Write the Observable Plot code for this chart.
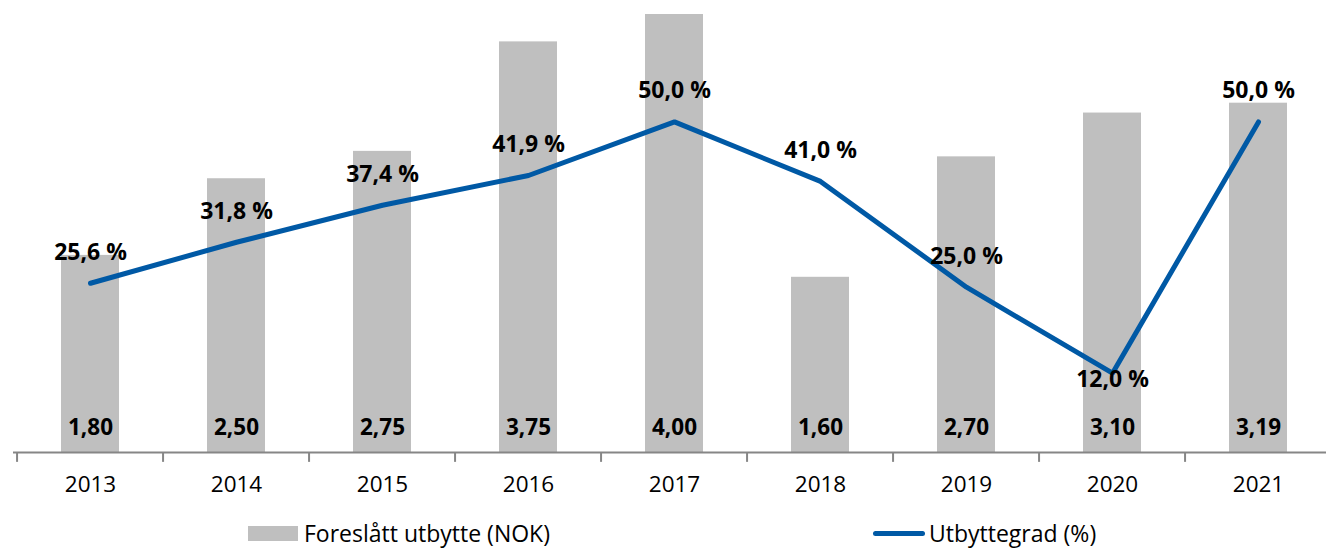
<!DOCTYPE html>
<html>
<head>
<meta charset="utf-8">
<script src="https://cdn.jsdelivr.net/npm/d3@7"></script>
<script src="https://cdn.jsdelivr.net/npm/@observablehq/plot@0.6"></script>
<style>
  html, body { margin: 0; padding: 0; background: #fff; }
  #chart { width: 1326px; height: 510px; }
  .legend { position: relative; width: 1326px; height: 38px; font-family: "Open Sans", sans-serif; font-size: 23px; color: #000; }
  .legend .item { position: absolute; top: 7px; height: 32px; line-height: 32px; display: flex; align-items: center; }
  .legend .sw-bar { width: 50px; height: 15px; background: #BFBFBF; margin-right: 6px; }
  .legend .sw-line { width: 52px; height: 5px; border-radius: 3px; background: #0059A5; margin-right: 4px; }
</style>
</head>
<body>
<div id="chart"></div>
<div class="legend">
  <div class="item" style="left:248px"><span class="sw-bar"></span><span>Foreslått utbytte (NOK)</span></div>
  <div class="item" style="left:873px"><span class="sw-line"></span><span>Utbyttegrad (%)</span></div>
</div>
<script>
const years = ["2013","2014","2015","2016","2017","2018","2019","2020","2021"];
const dividend = [1.80, 2.50, 2.75, 3.75, 4.00, 1.60, 2.70, 3.10, 3.19];
const payoutRatio = [25.6, 31.8, 37.4, 41.9, 50.0, 41.0, 25.0, 12.0, 50.0];
const belowLineLabel = ["2020"];

// dual axis: top of primary axis (NOK) corresponds to top of secondary axis (%)
const primaryMax = 4.0;
const secondaryMax = 66.25;
const toPrimary = p => p * primaryMax / secondaryMax;

const fmt2 = v => v.toFixed(2).replace(".", ",");
const fmtPct = v => v.toFixed(1).replace(".", ",") + " %";

const bars = years.map((y, i) => ({year: y, value: dividend[i]}));
const line = years.map((y, i) => ({year: y, pct: payoutRatio[i], yv: toPrimary(payoutRatio[i])}));

const xRange = [13.5, 1335.5];
const step = (xRange[1] - xRange[0]) / years.length;
const font = "'Open Sans', sans-serif";
const axisColor = "#868686";

const chart = Plot.plot({
  width: 1326,
  height: 510,
  marginTop: 14,
  marginBottom: 58,
  marginLeft: 13,
  marginRight: 0,
  style: {fontFamily: font, background: "#fff", overflow: "visible"},
  x: {domain: years, range: xRange, paddingInner: 0.6, paddingOuter: 0.3, label: null},
  y: {domain: [0, primaryMax], axis: null},
  marks: [
    Plot.barY(bars, {x: "year", y: "value", fill: "#BFBFBF"}),
    Plot.ruleY([0], {stroke: axisColor, strokeWidth: 2}),
    Plot.ruleX(years, {x: d => d, dx: -step / 2, y1: 0, y2: -0.09, stroke: axisColor, strokeWidth: 2}),
    Plot.axisX({tickSize: 0, tickPadding: 24, fontSize: 22.5, fill: "#000", fontFamily: font}),
    Plot.line(line, {x: "year", y: "yv", stroke: "#0059A5", strokeWidth: 5, strokeLinecap: "round", strokeLinejoin: "miter"}),
    Plot.text(bars, {x: "year", y: 0, dy: -25, text: d => fmt2(d.value), fontSize: 22.5, fontWeight: "bold", fill: "#000", fontFamily: font}),
    Plot.text(line.filter(d => !belowLineLabel.includes(d.year)), {x: "year", y: "yv", dy: -31, text: d => fmtPct(d.pct), fontSize: 23, fontWeight: "bold", fill: "#000", fontFamily: font}),
    Plot.text(line.filter(d => belowLineLabel.includes(d.year)), {x: "year", y: "yv", dy: 6, text: d => fmtPct(d.pct), fontSize: 23, fontWeight: "bold", fill: "#000", fontFamily: font})
  ]
});
document.getElementById("chart").appendChild(chart);
</script>
</body>
</html>
